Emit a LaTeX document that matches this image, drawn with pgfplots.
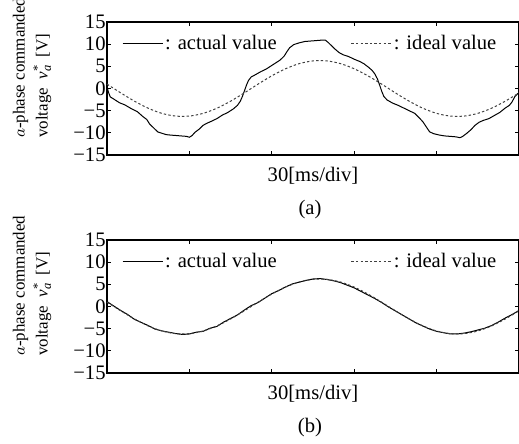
\documentclass[border=0pt]{standalone}
\usepackage{pgfplots}
\pgfplotsset{compat=1.18}
\usepackage{fontspec}
\setmainfont{Liberation Serif}
\pgfplotstableread{
t v
0 0.99
5 -0.99
10 -2.86
15 -4.45
20 -5.61
25 -6.22
30 -6.22
35 -5.61
40 -4.45
45 -2.86
50 -0.99
55 0.99
60 2.86
65 4.45
70 5.61
75 6.22
80 6.22
85 5.61
90 4.45
95 2.86
100 0.99
105 -0.99
110 -2.86
115 -4.45
120 -5.61
125 -6.22
130 -6.22
135 -5.61
140 -4.45
145 -2.86
150 -0.99
}\idealA
\pgfplotstableread{
t v
0 0.5
0.5 -0.8
1.2 -1.9
2.5 -2.4
4.5 -3.2
6.5 -3.7
9 -4.6
11 -5.2
13 -6.3
14.5 -7.0
15.5 -8.0
17 -8.9
18.5 -9.8
20 -10.1
21.5 -10.4
23 -10.5
25 -10.6
27 -10.7
29 -10.8
30 -11.0
31 -10.6
32 -9.9
33.5 -9.2
35 -8.3
36.5 -7.8
38 -7.4
40 -6.8
42 -6.0
44 -5.4
46 -4.6
47.5 -3.8
48.5 -2.9
49.3 -1.8
50 -0.6
50.8 0.8
51.5 1.8
52.5 2.6
54 3.1
56 3.8
58 4.4
60 5.2
61.5 5.8
63 6.4
64.5 7.3
65.5 8.3
66.5 9.2
68 9.9
70 10.3
72 10.6
74 10.7
76 10.8
78 10.9
79.5 10.9
80.5 10.4
81.5 9.8
83 8.9
84.5 8.1
86 7.6
88 7.2
90 6.6
92 6.1
93.5 5.6
95 4.9
96.5 4.1
97.5 3.3
98.5 2.1
99.3 0.7
100 -0.6
100.8 -1.8
102 -2.6
104 -3.3
106 -3.8
108 -4.4
110 -5.0
112 -5.6
113.5 -6.5
115 -7.5
116.5 -8.9
117.5 -9.8
119 -10.2
121 -10.5
123 -10.7
125 -10.8
127 -10.9
128.5 -11.1
129.5 -10.8
131 -10.1
132.5 -9.3
134 -8.3
135.5 -7.6
137 -7.2
139 -6.8
141 -6.1
143 -5.4
145 -4.4
146.5 -3.8
147.5 -3.0
148.5 -1.8
150 -0.9
}\actualA
\pgfplotstableread{
t v
0 0.97
5 -0.97
10 -2.81
15 -4.38
20 -5.52
25 -6.12
30 -6.12
35 -5.52
40 -4.38
45 -2.81
50 -0.97
55 0.97
60 2.81
65 4.38
70 5.52
75 6.12
80 6.12
85 5.52
90 4.38
95 2.81
100 0.97
105 -0.97
110 -2.81
115 -4.38
120 -5.52
125 -6.12
130 -6.12
135 -5.52
140 -4.38
145 -2.81
150 -0.97
}\idealB
\pgfplotstableread{
t v
0 1.1
2.5 0.1
5 -0.9
7.5 -1.8
10 -2.9
12.5 -3.6
15 -4.3
17.5 -5.1
20 -5.5
22.5 -5.8
25 -6.1
27.5 -6.3
30 -6.2
32.5 -5.8
35 -5.6
37.5 -4.9
40 -4.5
42.5 -3.5
45 -2.7
47.5 -1.9
50 -0.8
52.5 0.2
55 0.9
57.5 1.9
60 2.9
62.5 3.6
65 4.4
67.5 5.1
70 5.5
72.5 5.9
75 6.2
77.5 6.3
80 6.1
82.5 5.8
85 5.4
87.5 4.8
90 4.2
92.5 3.4
95 2.6
97.5 1.8
100 0.9
102.5 -0.1
105 -1.0
107.5 -1.9
110 -2.8
112.5 -3.7
115 -4.4
117.5 -5.1
120 -5.6
122.5 -5.9
125 -6.2
127.5 -6.2
130 -6.0
132.5 -5.7
135 -5.3
137.5 -4.9
140 -4.3
142.5 -3.5
145 -2.6
147.5 -1.8
150 -0.9
}\actualB
\pgfplotsset{
  myaxis/.style={
    scale only axis, width=206bp, height=66.5bp,
    xmin=0, xmax=150, ymin=-15, ymax=15, clip=false,
    xtick={30,60,90,120}, xticklabels={},
    ytick={-15,-10,-5,0,5,10,15},
    yticklabels={−15,−10,−5,0,5,10,15},
    tick align=inside, major tick length=2bp,
    axis line style={line width=0.6bp},
    tick style={line width=0.5bp, black},
    yticklabel style={inner sep=0.5bp},
    ylabel={$a$-phase commanded\\voltage \ \textit{v}\rlap{\raisebox{-0.45ex}{\fontsize{6.3}{7}\selectfont\itshape a}}\raisebox{0.75ex}{\fontsize{6.3}{7}\selectfont *}\ \ [V]},
    ylabel style={at={(rel axis cs:0,0.075)}, yshift=37.5bp, anchor=west, align=left, font=\fontsize{8.5}{11.5}\selectfont},
    legend columns=2,
    legend style={draw=none, fill=none, inner sep=0pt, at={(rel axis cs:0.036,0.835)}, anchor=west,
      nodes={inner sep=1bp}},
    /tikz/every even column/.append style={column sep=36bp},
    legend image code/.code={\draw[#1] (0bp,0bp) -- (20bp,0bp);},
  }
}
\begin{document}
\fontsize{10.35}{12.4}\selectfont
\begin{tikzpicture}
\begin{axis}[myaxis, name=top]
\addplot[black, line width=0.5bp] table {\actualA};
\addlegendentry{: actual value}
\addplot[black!75, line width=0.5bp, dash pattern=on 1.2bp off 1.1bp, smooth] table {\idealA};
\addlegendentry{: ideal value}
\node at (rel axis cs:0.5,0) [yshift=-10.5bp] {30[ms/div]};
\node at (rel axis cs:0.5,0) [yshift=-27.5bp, xshift=-1.5bp] {(a)};
\end{axis}
\begin{axis}[myaxis, name=bot, at={(top.south west)}, anchor=north west, yshift=-42.5bp]
\addplot[black, line width=0.5bp] table {\actualB};
\addlegendentry{: actual value}
\addplot[black!75, line width=0.5bp, dash pattern=on 1.2bp off 1.1bp, smooth] table {\idealB};
\addlegendentry{: ideal value}
\node at (rel axis cs:0.5,0) [yshift=-10.5bp] {30[ms/div]};
\node at (rel axis cs:0.5,0) [yshift=-27.5bp, xshift=-1.5bp] {(b)};
\end{axis}
\pgfresetboundingbox
\path[use as bounding box] ([xshift=-53.5bp,yshift=11bp]top.north west) rectangle ([yshift=-35.5bp]bot.south east);
\end{tikzpicture}
\end{document}
